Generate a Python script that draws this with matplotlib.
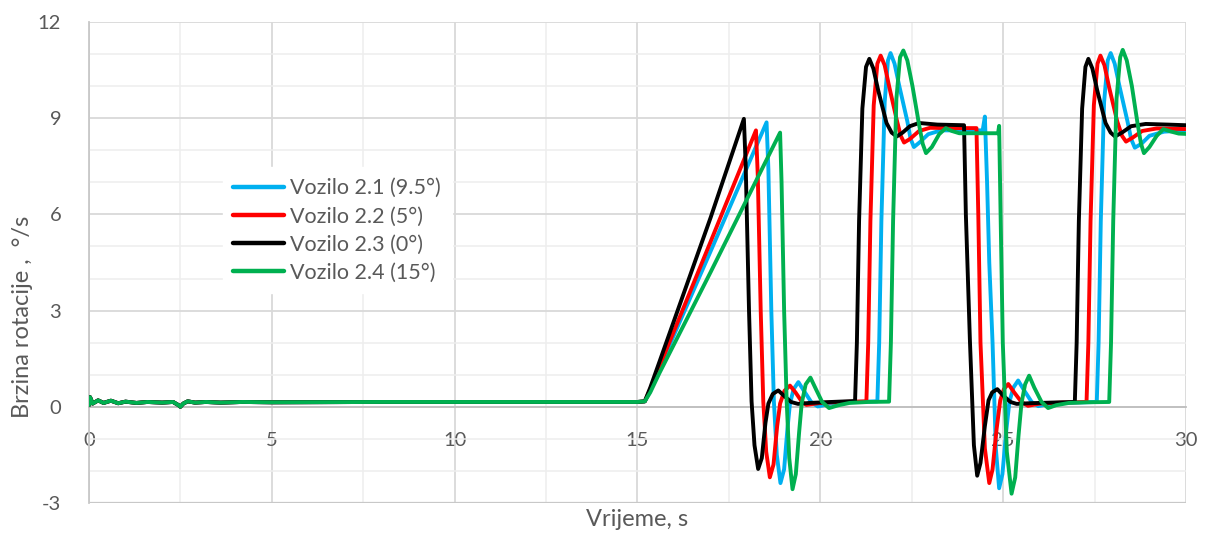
import matplotlib
matplotlib.use("Agg")
import matplotlib.pyplot as plt
from matplotlib.ticker import MultipleLocator

plt.rcParams['font.family'] = ['Lato', 'DejaVu Sans']
plt.rcParams['axes.unicode_minus'] = False

# shared initial segment (all vehicles overlap)
t_init = [0.0, 0.03, 0.1, 0.25, 0.4, 0.6, 0.8, 1.0, 1.3, 1.6, 2.0, 2.3, 2.45, 2.5, 2.58, 2.7, 2.9, 3.2, 3.6, 4.2, 5.0, 8.0, 12.0, 15.0]
v_init = [0.05, 0.3, 0.1, 0.2, 0.12, 0.19, 0.11, 0.16, 0.12, 0.15, 0.13, 0.15, 0.05, 0.0, 0.1, 0.17, 0.13, 0.15, 0.13, 0.15, 0.14, 0.15, 0.15, 0.15]

# Vozilo 2.1 (9.5°)
t_21 = [15.2, 15.35, 15.6, 17.0, 18.53, 18.58, 18.66, 18.73, 18.81, 18.91, 19.01, 19.1, 19.17, 19.27, 19.4, 19.55, 19.75, 19.93, 20.3, 20.9,
        21.56, 21.61, 21.67, 21.76, 21.85, 21.92, 22.03, 22.16, 22.38, 22.47, 22.56, 22.72, 22.95, 23.3, 23.9, 24.44, 24.5, 24.56, 24.62,
        24.71, 24.8, 24.89, 24.98, 25.08, 25.17, 25.28, 25.41, 25.58, 25.78, 25.96, 26.3, 26.9,
        27.56, 27.61, 27.67, 27.76, 27.86, 27.94, 28.05, 28.18, 28.4, 28.5, 28.6, 28.78, 29.0, 29.4, 30.0]
v_21 = [0.17, 0.5, 1.2, 4.85, 8.87, 7.4, 3.0, 0.17, -1.5, -2.38, -1.95, -0.7, 0.1, 0.55, 0.77, 0.5, 0.15, 0.01, 0.1, 0.15,
        0.17, 2.0, 5.8, 9.5, 10.8, 11.03, 10.7, 10.0, 8.9, 8.35, 8.10, 8.25, 8.5, 8.62, 8.62, 8.62, 9.05, 7.0, 4.5,
        2.0, -1.3, -2.54, -2.1, -0.8, 0.15, 0.6, 0.82, 0.5, 0.15, 0.02, 0.1, 0.13,
        0.15, 2.0, 5.8, 9.5, 10.8, 11.03, 10.7, 10.0, 8.9, 8.35, 8.08, 8.2, 8.45, 8.58, 8.62]

# Vozilo 2.2 (5°)
t_22 = [15.2, 15.35, 15.6, 17.0, 18.24, 18.29, 18.37, 18.44, 18.52, 18.62, 18.72, 18.82, 18.9, 19.02, 19.17, 19.32, 19.5, 19.62, 20.0, 20.6,
        21.26, 21.31, 21.37, 21.46, 21.56, 21.65, 21.76, 21.89, 22.1, 22.2, 22.29, 22.45, 22.7, 23.0, 23.6, 24.27, 24.32, 24.38, 24.5,
        24.62, 24.71, 24.82, 24.92, 25.02, 25.14, 25.3, 25.5, 25.68, 26.0, 26.6,
        27.28, 27.33, 27.39, 27.48, 27.58, 27.66, 27.77, 27.9, 28.12, 28.25, 28.36, 28.55, 28.8, 29.2, 29.6, 30.0]
v_22 = [0.17, 0.55, 1.25, 5.15, 8.62, 7.2, 3.0, 0.17, -1.4, -2.2, -1.8, -0.6, 0.1, 0.5, 0.66, 0.45, 0.15, 0.06, 0.12, 0.15,
        0.17, 2.0, 5.8, 9.4, 10.7, 10.95, 10.65, 9.95, 8.9, 8.45, 8.24, 8.35, 8.6, 8.7, 8.69, 8.69, 6.0, 2.0, -1.3,
        -2.38, -1.95, -0.7, 0.2, 0.55, 0.71, 0.45, 0.15, 0.03, 0.1, 0.13,
        0.15, 2.0, 5.8, 9.4, 10.7, 10.95, 10.65, 9.95, 8.9, 8.45, 8.27, 8.4, 8.6, 8.68, 8.67, 8.66]

# Vozilo 2.3 (0°)
t_23 = [15.2, 15.35, 15.6, 17.0, 17.91, 17.96, 18.05, 18.12, 18.2, 18.3, 18.4, 18.5, 18.58, 18.7, 18.85, 19.0, 19.2, 19.39, 19.7, 20.3,
        20.95, 21.0, 21.06, 21.15, 21.25, 21.34, 21.45, 21.58, 21.81, 21.95, 22.09, 22.25, 22.45, 22.7, 23.2, 23.93, 23.98, 24.09, 24.2,
        24.29, 24.38, 24.5, 24.6, 24.7, 24.84, 25.0, 25.2, 25.37, 25.7, 26.3,
        26.96, 27.01, 27.07, 27.16, 27.25, 27.33, 27.44, 27.57, 27.8, 27.94, 28.06, 28.25, 28.5, 28.9, 29.5, 30.0]
v_23 = [0.17, 0.6, 1.4, 5.9, 8.98, 7.5, 3.0, 0.17, -1.2, -1.94, -1.6, -0.5, 0.1, 0.4, 0.51, 0.35, 0.15, 0.09, 0.12, 0.15,
        0.18, 2.0, 5.8, 9.3, 10.6, 10.85, 10.55, 9.88, 8.85, 8.55, 8.43, 8.55, 8.75, 8.85, 8.8, 8.78, 6.0, 2.09, -1.2,
        -2.15, -1.75, -0.6, 0.2, 0.45, 0.55, 0.35, 0.15, 0.09, 0.11, 0.13,
        0.15, 2.0, 5.8, 9.3, 10.6, 10.85, 10.55, 9.88, 8.85, 8.55, 8.43, 8.55, 8.75, 8.82, 8.8, 8.78]

# Vozilo 2.4 (15°)
t_24 = [15.2, 15.35, 15.6, 17.0, 18.9, 18.94, 19.01, 19.08, 19.15, 19.24, 19.33, 19.42, 19.49, 19.6, 19.73, 19.88, 20.05, 20.24, 20.5, 20.8, 21.3,
        21.88, 21.93, 21.99, 22.08, 22.18, 22.27, 22.38, 22.52, 22.7, 22.8, 22.89, 23.05, 23.25, 23.43, 23.6, 23.8, 24.3, 24.86, 24.89, 24.93,
        24.99, 25.1, 25.23, 25.33, 25.42, 25.5, 25.6, 25.71, 25.85, 26.05, 26.23, 26.45, 26.8, 27.3,
        27.90, 27.95, 28.01, 28.10, 28.2, 28.27, 28.38, 28.52, 28.68, 28.77, 28.85, 29.0, 29.2, 29.38, 29.6, 29.8, 30.0]
v_24 = [0.17, 0.45, 1.05, 4.2, 8.55, 7.0, 3.0, 0.17, -1.6, -2.57, -2.1, -0.8, 0.1, 0.7, 0.91, 0.55, 0.15, -0.04, 0.05, 0.12, 0.15,
        0.16, 2.0, 5.8, 9.6, 10.9, 11.11, 10.8, 10.0, 8.8, 8.2, 7.91, 8.1, 8.5, 8.69, 8.6, 8.53, 8.53, 8.53, 8.76, 6.0,
        2.0, -1.4, -2.71, -2.2, -0.9, 0.1, 0.7, 0.97, 0.6, 0.15, -0.04, 0.05, 0.12, 0.14,
        0.15, 2.0, 5.8, 9.6, 10.9, 11.13, 10.8, 10.0, 8.8, 8.2, 7.91, 8.1, 8.45, 8.66, 8.58, 8.52, 8.51]

series = [
    ("Vozilo 2.1 (9.5°)", t_21, v_21, "#00B0F0"),
    ("Vozilo 2.2 (5°)", t_22, v_22, "#FF0000"),
    ("Vozilo 2.3 (0°)", t_23, v_23, "#000000"),
    ("Vozilo 2.4 (15°)", t_24, v_24, "#00B050"),
]

x_ticks = [0, 5, 10, 15, 20, 25, 30]
y_ticks = [-3, 0, 3, 6, 9, 12]

txt = "#595959"
fig = plt.figure(figsize=(12.07, 5.36), dpi=100)
ax = fig.add_axes([0.0737, 0.0616, 0.9089, 0.8974])

for label, t, v, c in series:
    ax.plot(t_init + t, v_init + v, color=c, lw=2.8, label=label, solid_joinstyle='round', solid_capstyle='round', zorder=3)

ax.set_xlim(0, 30)
ax.set_ylim(-3, 12)
ax.set_xticks(x_ticks)
ax.set_yticks(y_ticks)
ax.xaxis.set_minor_locator(MultipleLocator(2.5))
ax.yaxis.set_minor_locator(MultipleLocator(1))
ax.grid(which='major', color='#d9d9d9', lw=1.3, zorder=0)
ax.grid(which='minor', color='#eeeeee', lw=1.1, zorder=0)
ax.set_axisbelow(True)

for s in ['top', 'right']:
    ax.spines[s].set_visible(False)
ax.spines['left'].set_color('#c8c8c8')
ax.spines['left'].set_linewidth(1.3)
ax.spines['bottom'].set_position(('data', 0))
ax.spines['bottom'].set_color('#bfbfbf')
ax.spines['bottom'].set_linewidth(1.3)
ax.axhline(-3, color='#c8c8c8', lw=1.6, zorder=1)

ax.tick_params(which='both', length=0)
ax.tick_params(axis='x', pad=18, labelsize=14.5, labelcolor=txt)
ax.tick_params(axis='y', pad=20, labelsize=14.5, labelcolor=txt)

ax.set_xlabel("Vrijeme, s", fontsize=17, color=txt)
ax.xaxis.set_label_coords(0.5, -0.012)
ax.set_ylabel("Brzina rotacije ,  °/s", fontsize=17, color=txt)
ax.yaxis.set_label_coords(-0.051, 0.387)

leg = ax.legend(loc='upper left', bbox_to_anchor=(0.112, 0.72), fontsize=15.5, frameon=True,
                fancybox=False, edgecolor='white', facecolor='white', framealpha=1,
                handlelength=2.35, handletextpad=0.3, labelspacing=0.38, borderpad=0.5)
for txtobj in leg.get_texts():
    txtobj.set_color(txt)
for line in leg.get_lines():
    line.set_linewidth(3.2)

fig.savefig("out.png", dpi=100)
